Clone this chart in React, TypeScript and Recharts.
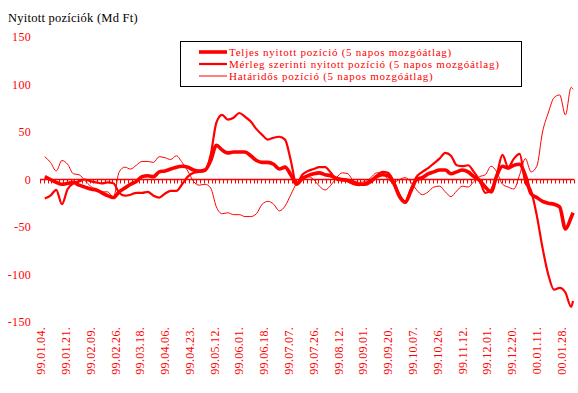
import React from "react";
import {
  LineChart,
  Line,
  XAxis,
  YAxis,
  ReferenceLine,
  Customized,
} from "recharts";

// day index of each sample (business days from 99.01.04.)
const DAY_IDX = [
  2, 5, 8, 11, 14, 17, 20, 23, 26, 29, 32, 35, 38, 41, 44, 47, 50, 53, 56, 59,
  62, 65, 68, 71, 74, 77, 80, 83, 86, 89, 92, 95, 98, 101, 104, 107, 110, 113,
  116, 119, 122, 125, 128, 131, 134, 137, 140, 143, 146, 149, 152, 155, 158,
  161, 164, 167, 170, 173, 176, 179, 182, 185, 188, 191, 194, 197, 200, 203,
  206, 209, 212, 215, 218, 221, 224, 227, 230, 233, 236, 239, 242, 245, 248,
  251, 254, 257, 260, 263, 266, 269, 272, 275, 278, 279,
];

// Teljes nyitott pozíció
const TELJES = [
  3, 0, -3, -5, -4, -3, -6, -8, -10, -11, -14, -17, -19, -13, -9, -5, -2, 3, 4,
  3, 8, 9, 11, 13, 14, 13, 10, 9, 10, 20, 36, 31, 28, 29, 29, 29, 25, 20, 18,
  18, 16, 11, 13, 5, -5, 1, 4, 6, 7, 5, 4, 1, 0, -1, -3, -5, -5, -2, 3, 5, 4,
  -4, -18, -24, -12, 0, 2, 6, 8, 10, 10, 6, 8, 10, 8, 3, -1, -8, -13, 4, 14,
  12, 15, 16, 4, -15, -19, -23, -25, -26, -29, -52, -40, -35,
];

// Mérleg szerinti nyitott pozíció
const MERLEG = [
  -20, -17, -11, -26, -10, -4, -2, 0, -2, -3, -4, -3, -4, -14, -17, -16, -14,
  -14, -13, -17, -19, -15, -12, -12, -5, 3, 7, 8, 9, 26, 60, 68, 63, 65, 70, 66,
  61, 53, 47, 42, 44, 45, 42, 20, -5, 5, 9, 11, 13, 13, 7, 0, -1, -2, -5, -6,
  -4, -1, 4, 8, 7, -2, -16, -23, -10, 3, 8, 12, 17, 22, 28, 25, 15, 14, 15, 8,
  -1, -14, -11, 5, 26, 13, 22, 27, -3, -12, -38, -72, -100, -116, -114, -119,
  -134, -128,
];

// Határidős pozíció
const HATARIDOS = [
  24, 18, 9, 20, 16, 6, 5, -1, -7, -11, -13, -13, -19, 8, 13, 11, 15, 19, 19,
  18, 24, 23, 21, 25, 18, 9, -2, -6, -5, -9, -29, -36, -35, -37, -37, -39, -39,
  -36, -26, -23, -26, -33, -28, -16, -4, 3, 3, 0, -7, -11, -6, 2, 7, 6, -2, -3,
  -2, 2, 7, 7, 0, -3, 0, 2, -3, -11, -16, -13, -8, -7, -13, -18, -12, -7, -8,
  -2, 3, 5, 14, 8, -5, -8, -10, 5, 22, 8, 14, 50, 70, 86, 89, 68, 97, 95,
];

const X_LABELS = [
  "99.01.04.", "99.01.21.", "99.02.09.", "99.02.26.", "99.03.18.", "99.04.06.",
  "99.04.23.", "99.05.12.", "99.06.01.", "99.06.18.", "99.07.07.", "99.07.26.",
  "99.08.12.", "99.09.01.", "99.09.20.", "99.10.07.", "99.10.26.", "99.11.12.",
  "99.12.01.", "99.12.20.", "00.01.11.", "00.01.28.",
];
const X_LABEL_IDX = X_LABELS.map((_, i) => i * 13);
const Y_TICKS = [-150, -100, -50, 0, 50, 100, 150];

const SERIES_NAMES = [
  "Teljes nyitott pozíció (5 napos mozgóátlag)",
  "Mérleg szerinti nyitott pozíció (5 napos mozgóátlag)",
  "Határidős pozíció (5 napos mozgóátlag)",
];

const RED = "#ff0000";
const FONT = "'Liberation Serif', 'Times New Roman', serif";
const W = 578;
const H = 393;
const DOMAIN_LO = -0.5;
const DOMAIN_HI = 279.5;
const WIDTHS = [3.6, 2.2, 1];

const data = DAY_IDX.map((idx, i) => ({
  idx,
  teljes: TELJES[i],
  merleg: MERLEG[i],
  hataridos: HATARIDOS[i],
}));

const XTick = (p: any) => {
  const i = X_LABEL_IDX.indexOf(p.payload.value);
  const x = p.x;
  const y = 327;
  return (
    <text
      x={x}
      y={y}
      dy="0.35em"
      transform={`rotate(-90 ${x} ${y})`}
      textAnchor="end"
      fill={RED}
      fontFamily={FONT}
      fontSize={12}
      letterSpacing={0.3}
    >
      {X_LABELS[i] ?? ""}
    </text>
  );
};

const YTick = (p: any) => (
  <text
    x={31}
    y={p.y}
    dy={4}
    textAnchor="end"
    fill={RED}
    fontFamily={FONT}
    fontSize={12}
    letterSpacing={0.3}
  >
    {p.payload.value}
  </text>
);

// zero axis with small tick marks every second category
const ZeroAxis = (p: any) => {
  const { x1, x2, y1 } = p;
  const step = ((x2 - x1) / (DOMAIN_HI - DOMAIN_LO)) * 2;
  const n = Math.round((x2 - x1) / step);
  const ticks = [];
  for (let k = 0; k <= n; k++) {
    const tx = Math.round(x1 + k * step) + 0.5;
    ticks.push(
      <line key={k} x1={tx} x2={tx} y1={y1} y2={y1 + 4} stroke={RED} strokeWidth={1} />
    );
  }
  return (
    <g>
      <line x1={x1} x2={x2} y1={y1} y2={y1} stroke={RED} strokeWidth={1.6} />
      {ticks}
    </g>
  );
};

const Decorations = () => (
  <g>
    <text x={8} y={22} fill="#000" fontFamily={FONT} fontSize={12.5} letterSpacing={0.25}>
      Nyitott pozíciók (Md Ft)
    </text>
    <rect x={180.5} y={41.5} width={341} height={45} fill="#fff" stroke="#000" strokeWidth={1} />
    {SERIES_NAMES.map((name, i) => (
      <g key={name}>
        <line
          x1={199}
          x2={227}
          y1={52 + i * 12}
          y2={52 + i * 12}
          stroke={RED}
          strokeWidth={WIDTHS[i]}
        />
        <text
          x={229}
          y={55.5 + i * 12}
          fill={RED}
          fontFamily={FONT}
          fontSize={11}
          letterSpacing={0.75}
        >
          {name}
        </text>
      </g>
    ))}
  </g>
);

export default function App() {
  return (
    <div style={{ width: W, height: H, background: "#fff" }}>
      <style>{`body{margin:0;}`}</style>
      <LineChart
        width={W}
        height={H}
        data={data}
        margin={{ top: 37, right: 4, left: 0, bottom: 0 }}
      >
        <XAxis
          dataKey="idx"
          type="number"
          domain={[DOMAIN_LO, DOMAIN_HI]}
          ticks={X_LABEL_IDX}
          interval={0}
          height={71}
          axisLine={false}
          tickLine={false}
          tick={<XTick />}
        />
        <YAxis
          type="number"
          domain={[-150, 150]}
          ticks={Y_TICKS}
          interval={0}
          width={40}
          axisLine={false}
          tickLine={false}
          tick={<YTick />}
        />
        <ReferenceLine y={0} shape={ZeroAxis} />
        <Line
          type="monotone"
          dataKey="teljes"
          stroke={RED}
          strokeWidth={WIDTHS[0]}
          dot={false}
          isAnimationActive={false}
        />
        <Line
          type="monotone"
          dataKey="merleg"
          stroke={RED}
          strokeWidth={WIDTHS[1]}
          dot={false}
          isAnimationActive={false}
        />
        <Line
          type="monotone"
          dataKey="hataridos"
          stroke={RED}
          strokeWidth={WIDTHS[2]}
          dot={false}
          isAnimationActive={false}
        />
        <Customized component={Decorations} />
      </LineChart>
    </div>
  );
}
